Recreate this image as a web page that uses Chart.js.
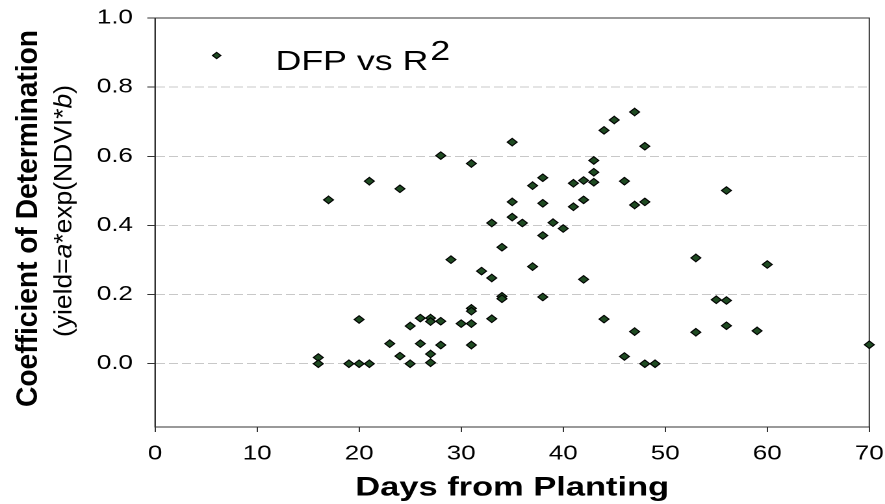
<!DOCTYPE html>
<html>
<head>
<meta charset="utf-8">
<style>
html,body{margin:0;padding:0;background:#fff;overflow:hidden;width:885px;height:504px;}
#wrap{position:absolute;left:0;top:0;width:681px;height:504px;transform:scaleX(1.2996);transform-origin:0 0;}
</style>
<script src="https://cdn.jsdelivr.net/npm/chart.js"></script>
</head>
<body>
<div id="wrap"><canvas id="c"></canvas></div>
<script>
// ---- data ----
const days = [16,16,17,19,20,20,21,21,23,24,24,25,25,26,26,27,27,27,27,28,28,28,29,30,
  31,31,31,31,31,32,33,33,33,34,34,34,35,35,35,36,37,37,38,38,38,38,39,40,41,41,
  42,42,42,43,43,43,44,44,45,46,46,47,47,47,48,48,48,49,53,53,55,56,56,56,59,60,70];
const r2 = [0.018,0.0,0.474,0.0,0.0,0.128,0.0,0.528,0.058,0.506,0.022,0.0,0.109,0.132,0.058,
  0.132,0.122,0.028,0.003,0.602,0.123,0.054,0.301,0.116,
  0.579,0.160,0.152,0.116,0.054,0.268,0.407,0.248,0.130,0.337,0.195,0.188,0.641,0.468,0.424,
  0.407,0.515,0.281,0.538,0.464,0.371,0.193,0.408,0.391,0.522,0.454,
  0.530,0.474,0.244,0.588,0.554,0.525,0.675,0.129,0.705,0.528,0.021,0.728,0.459,0.093,
  0.629,0.468,0.0,0.0,0.306,0.091,0.185,0.501,0.183,0.110,0.095,0.287,0.055];
const xTicks = [0,10,20,30,40,50,60,70];
const yTicks = [0.0,0.2,0.4,0.6,0.8,1.0];
const seriesLabel = 'DFP vs R';
const seriesSup = '2';
const xTitle = 'Days from Planting';
const yTitle = 'Coefficient of Determination';
const ySubtitle = [['(yield=', false], ['a', true], ['*exp(NDVI*', false], ['b', true], [')', false]];

const points = days.map((d, i) => ({x: d, y: r2[i]}));
const FONT = "'Liberation Sans', Arial, sans-serif";
const FILL = '#1f4a22';

function drawRotated(ctx, segs, size, weight, baseX, centerY, targetLen) {
  ctx.save();
  ctx.translate(baseX, centerY);
  ctx.rotate(-Math.PI / 2);
  let total = 0;
  const widths = segs.map(([t, it]) => {
    ctx.font = (it ? 'italic ' : '') + weight + ' ' + size + 'px ' + FONT;
    const w = ctx.measureText(t).width; total += w; return w;
  });
  const k = targetLen / total;
  ctx.scale(k, 1);
  ctx.fillStyle = '#000';
  ctx.textAlign = 'left';
  ctx.textBaseline = 'alphabetic';
  let x = -total / 2;
  segs.forEach(([t, it], i) => {
    ctx.font = (it ? 'italic ' : '') + weight + ' ' + size + 'px ' + FONT;
    ctx.fillText(t, x, 0);
    x += widths[i];
  });
  ctx.restore();
}

const decor = {
  id: 'decor',
  beforeDatasetsDraw(chart) {
    const {ctx, chartArea: a} = chart;
    ctx.save();
    ctx.strokeStyle = '#333';
    ctx.lineWidth = 1;
    ctx.strokeRect(a.left, a.top, a.right - a.left, a.bottom - a.top);
    ctx.restore();
  },
  afterDraw(chart) {
    const ctx = chart.ctx;
    // y titles
    drawRotated(ctx, [[yTitle, false]], 23, 'bold', 28.5, 218.5, 377);
    drawRotated(ctx, ySubtitle, 19.7, 'normal', 55.2, 211, 252);
    // legend
    ctx.save();
    const mx = 166.7, my = 55.5, r = 3.2;
    ctx.beginPath();
    ctx.moveTo(mx, my - r); ctx.lineTo(mx + r, my); ctx.lineTo(mx, my + r); ctx.lineTo(mx - r, my); ctx.closePath();
    ctx.fillStyle = FILL; ctx.fill();
    ctx.strokeStyle = '#000'; ctx.lineWidth = 1; ctx.stroke();
    ctx.fillStyle = '#000';
    ctx.font = '27.5px ' + FONT;
    ctx.textAlign = 'left';
    ctx.textBaseline = 'alphabetic';
    ctx.fillText(seriesLabel, 212, 70);
    const w = ctx.measureText(seriesLabel).width;
    ctx.fillText(seriesSup, 212 + w + 1.5, 60);
    ctx.restore();
  }
};

new Chart(document.getElementById('c'), {
  type: 'scatter',
  data: {
    datasets: [{
      label: seriesLabel + seriesSup,
      data: points,
      pointStyle: 'rectRot',
      pointRadius: 3.8,
      pointHoverRadius: 3.8,
      backgroundColor: FILL,
      borderColor: '#000',
      borderWidth: 1,
      clip: false
    }]
  },
  options: {
    responsive: true,
    maintainAspectRatio: false,
    animation: false,
    devicePixelRatio: 2,
    layout: {padding: {left: 0, right: 12.1, top: 18, bottom: 0}},
    plugins: {legend: {display: false}, tooltip: {enabled: false}},
    scales: {
      x: {
        type: 'linear', min: 0, max: 70,
        afterBuildTicks: s => { s.ticks = xTicks.map(v => ({value: v})); },
        afterFit: s => { s.height = 77; s.paddingLeft = 0; s.paddingRight = 0; },
        grid: {drawOnChartArea: false, drawTicks: true, tickLength: 5, tickColor: '#333', color: '#333'},
        border: {display: true, color: '#333', width: 1},
        ticks: {color: '#000', font: {family: FONT, size: 20}, padding: 10, maxRotation: 0, autoSkip: false},
        title: {display: true, text: xTitle, color: '#000', font: {family: FONT, size: 26.5, weight: 'bold'}, padding: {top: 0, bottom: 0}}
      },
      y: {
        type: 'linear', min: -0.183, max: 1.0,
        afterBuildTicks: s => { s.ticks = yTicks.map(v => ({value: v})); },
        afterFit: s => { s.width = 119.3; s.paddingTop = 0; s.paddingBottom = 0; },
        grid: {color: '#c8c8c8', lineWidth: 1, drawTicks: true, tickLength: 6, tickColor: '#333'},
        border: {display: true, color: '#333', width: 1, dash: [7, 3]},
        ticks: {color: '#000', font: {family: FONT, size: 20}, padding: 11, callback: v => Number(v).toFixed(1)}
      }
    }
  },
  plugins: [decor]
});
</script>
</body>
</html>
